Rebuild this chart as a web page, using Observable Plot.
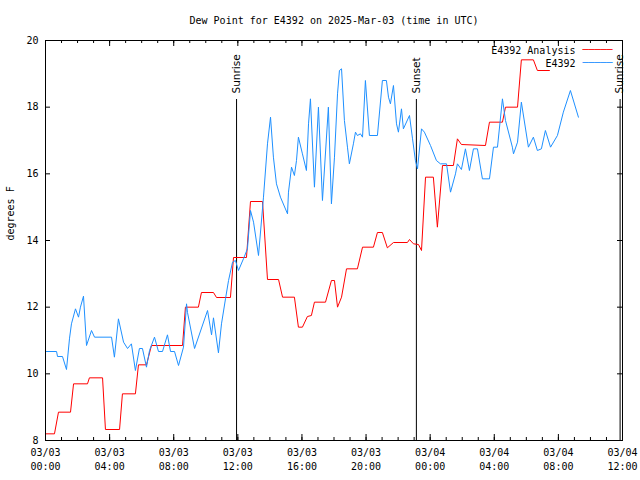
<!DOCTYPE html>
<html><head><meta charset="utf-8">
<script src="https://cdn.jsdelivr.net/npm/d3@7"></script>
<script src="https://cdn.jsdelivr.net/npm/@observablehq/plot@0.6"></script>
<style>body{margin:0;background:#fff}</style>
</head><body><div id="chart"></div>
<script>
const title = "Dew Point for E4392 on 2025-Mar-03 (time in UTC)";
const yLabel = "degrees F";
const seriesNames = ["E4392 Analysis", "E4392"];
const seriesColors = ["#ff0000", "#1e90ff"];
const xTickHours = [0, 4, 8, 12, 16, 20, 24, 28, 32, 36];
const xTickLabels = ["03/03\n00:00", "03/03\n04:00", "03/03\n08:00", "03/03\n12:00", "03/03\n16:00",
                     "03/03\n20:00", "03/04\n00:00", "03/04\n04:00", "03/04\n08:00", "03/04\n12:00"];
const hourTicks = d3.range(0, 37);
const yTicks = [8, 10, 12, 14, 16, 18, 20];
const sunEvents = [
  {h: 11.92, label: "Sunrise"},
  {h: 23.14, label: "Sunset"},
  {h: 35.85, label: "Sunrise"}
];
// [hours since 2025-03-03 00:00 UTC, dew point °F]
const analysis = [
  [0,8.2],[0.56,8.2],[0.81,8.85],[1.56,8.85],[1.75,9.7],[2.62,9.7],[2.74,9.88],[3.56,9.88],[3.74,8.33],[4.62,8.33],
  [4.80,9.4],[5.61,9.4],[5.80,10.27],[6.30,10.27],[6.61,10.85],[8.55,10.85],[8.73,12.0],[9.54,12.0],[9.73,12.44],[10.48,12.44],
  [10.67,12.29],[11.54,12.29],[11.73,13.49],[12.54,13.49],[12.79,15.17],[13.54,15.17],[13.85,12.83],[14.54,12.83],[14.79,12.3],[15.53,12.3],
  [15.78,11.4],[16.03,11.4],[16.34,11.72],[16.59,11.75],[16.78,12.15],[17.47,12.15],[17.84,12.8],[18.03,12.8],[18.22,12.0],[18.47,12.3],
  [18.78,13.15],[19.46,13.15],[19.78,13.8],[20.46,13.8],[20.71,14.24],[21.02,14.24],[21.33,13.78],[21.71,13.94],[22.58,13.94],[22.71,14.03],
  [22.96,13.9],[23.27,13.88],[23.46,13.7],[23.71,15.9],[24.20,15.9],[24.45,14.4],[24.77,16.25],[25.45,16.25],[25.70,17.05],[25.95,16.88],
  [27.45,16.85],[27.70,17.55],[28.51,17.55],[28.70,18.0],[29.45,18.0],[29.69,19.42],[30.44,19.42],[30.69,19.1],[31.44,19.1]
];
const observed = [
  [0.00,10.67],[0.69,10.67],[0.75,10.52],[1.06,10.52],[1.31,10.13],[1.50,11.07],[1.62,11.5],[1.87,11.95],[2.06,11.7],[2.18,12.0],
  [2.37,12.33],[2.56,10.85],[2.87,11.3],[3.06,11.1],[4.12,11.1],[4.30,10.5],[4.55,11.65],[4.87,10.95],[5.12,10.76],[5.36,10.9],
  [5.61,10.1],[5.86,10.76],[6.05,10.76],[6.30,10.2],[6.49,10.7],[6.80,11.1],[7.05,10.67],[7.30,10.67],[7.61,11.17],[7.80,10.67],
  [8.05,10.67],[8.30,10.25],[8.61,10.8],[8.80,12.1],[8.86,11.84],[9.30,10.76],[10.11,11.9],[10.36,11.17],[10.48,11.68],[10.79,10.63],
  [10.98,11.5],[11.23,12.25],[11.42,12.8],[11.67,13.35],[11.85,13.4],[12.04,13.1],[12.35,13.45],[12.60,13.75],[12.79,14.9],[12.98,14.55],
  [13.29,13.55],[13.60,15.3],[13.85,16.9],[14.04,17.7],[14.22,16.5],[14.41,15.7],[14.66,15.3],[15.10,14.8],[15.16,15.45],[15.35,16.2],
  [15.53,15.95],[15.66,16.4],[15.78,17.1],[16.03,16.6],[16.28,16.1],[16.41,17.5],[16.53,18.25],[16.78,15.6],[17.03,18.0],[17.28,15.2],
  [17.65,18.0],[17.84,15.1],[18.03,16.5],[18.22,18.4],[18.34,19.1],[18.47,19.15],[18.65,17.6],[18.84,16.8],[18.96,16.3],[19.21,16.9],
  [19.34,17.25],[19.46,17.15],[19.65,17.2],[19.78,17.1],[19.96,18.8],[20.21,17.15],[20.71,17.15],[21.02,18.8],[21.27,18.8],[21.40,18.3],
  [21.52,18.1],[21.71,18.65],[21.90,17.5],[22.02,17.25],[22.21,17.95],[22.33,17.35],[22.71,17.75],[22.90,17.05],[23.08,16.4],[23.21,16.15],
  [23.46,17.35],[23.64,17.25],[24.02,16.85],[24.39,16.4],[24.64,16.3],[25.02,16.3],[25.27,15.45],[25.58,16.0],[25.70,16.3],[25.95,16.13],
  [26.20,16.75],[26.45,16.1],[26.70,16.75],[26.95,16.75],[27.26,15.85],[27.70,15.85],[27.95,16.8],[28.20,16.8],[28.51,18.25],[28.70,17.6],
  [29.13,16.8],[29.20,16.6],[29.45,16.95],[29.69,18.15],[30.13,16.8],[30.44,17.1],[30.69,16.7],[30.94,16.75],[31.19,17.3],[31.51,16.8],
  [31.94,17.15],[32.31,17.85],[32.75,18.5],[33.25,17.7]
];

const mono = "DejaVu Sans Mono";
const swatch = "\u2500\u2500\u2500\u2500\u2500";
const legendMarks = seriesNames.flatMap((name, i) => [
  Plot.text([name], {frameAnchor: "top-right", dx: -47, dy: 10.5 + i * 13, textAnchor: "end", lineAnchor: "middle", fill: "#000"}),
  Plot.text([swatch], {frameAnchor: "top-right", dx: -40, dy: 9 + i * 13, textAnchor: "start", lineAnchor: "middle", fill: seriesColors[i]})
]);

const chart = Plot.plot({
  width: 640, height: 480,
  marginLeft: 45, marginRight: 18, marginTop: 40, marginBottom: 40,
  style: {fontFamily: mono, fontSize: "10px", background: "#fff", color: "#000"},
  x: {domain: [0, 36]},
  y: {domain: [8, 20]},
  marks: [
    Plot.axisX({ticks: xTickHours, tickFormat: d => xTickLabels[xTickHours.indexOf(d)], tickSize: 0, tickPadding: 6, lineHeight: 1.4, label: null, fill: "#000"}),
    Plot.axisY({ticks: yTicks, tickSize: 0, tickPadding: 7, label: null, fill: "#000"}),
    Plot.ruleX(hourTicks, {insetTop: 397, stroke: "#000"}),
    Plot.ruleX(hourTicks, {insetBottom: 397, stroke: "#000"}),
    Plot.ruleX(xTickHours, {insetTop: 394, stroke: "#000"}),
    Plot.ruleX(xTickHours, {insetBottom: 394, stroke: "#000"}),
    Plot.ruleY(yTicks, {insetRight: 572, stroke: "#000"}),
    Plot.ruleY(yTicks, {insetLeft: 572, stroke: "#000"}),
    Plot.ruleX(sunEvents, {x: "h", insetTop: 59, stroke: "#000"}),
    Plot.text(sunEvents, {x: "h", text: "label", frameAnchor: "top", dy: 53, rotate: -90, textAnchor: "start", lineAnchor: "middle", fontFamily: "DejaVu Sans", fontSize: 10.5, fill: "#000"}),
    Plot.line(analysis, {x: d => d[0], y: d => d[1], stroke: seriesColors[0], strokeWidth: 1}),
    Plot.line(observed, {x: d => d[0], y: d => d[1], stroke: seriesColors[1], strokeWidth: 1}),
    Plot.frame({stroke: "#000"}),
    Plot.text([title], {frameAnchor: "top", dy: -20, lineAnchor: "middle", fill: "#000"}),
    Plot.text([yLabel], {frameAnchor: "left", dx: -35, rotate: -90, lineAnchor: "middle", fill: "#000"}),
    ...legendMarks
  ]
});
document.getElementById("chart").appendChild(chart);
</script>
</body></html>
